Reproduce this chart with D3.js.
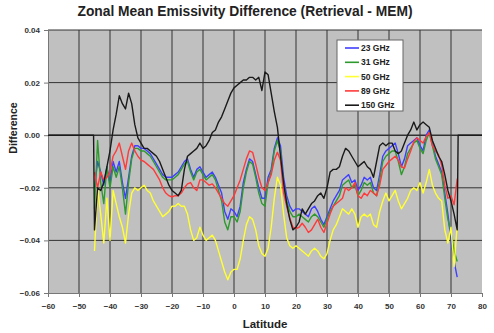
<!DOCTYPE html>
<html>
<head>
<meta charset="utf-8">
<script src="https://cdn.jsdelivr.net/npm/d3@7"></script>
<style>
  body { margin: 0; background: #fff; }
  svg { display: block; font-family: Arial, "Liberation Sans", sans-serif; }
</style>
</head>
<body>
<div id="viz"></div>
<script>
(function () {
  'use strict';

  // latitudes of the zonal means
  var lat = [-45, -44, -43, -42, -41, -40, -39, -38, -37, -36, -35, -34, -33, -32, -31, -30,
    -29, -28, -27, -26, -25, -24, -23, -22, -21, -20, -19, -18, -17, -16, -15, -14, -13, -12,
    -11, -10, -9, -8, -7, -6, -5, -4, -3, -2, -1, 0, 1, 2, 3, 4, 5, 6, 7, 8, 9, 10, 11, 12,
    13, 14, 15, 16, 17, 18, 19, 20, 21, 22, 23, 24, 25, 26, 27, 28, 29, 30, 31, 32, 33, 34,
    35, 36, 37, 38, 39, 40, 41, 42, 43, 44, 45, 46, 47, 48, 49, 50, 51, 52, 53, 54, 55, 56,
    57, 58, 59, 60, 61, 62, 63, 64, 65, 66, 67, 68, 69, 70, 71, 72];

  var ghz23 = [-0.020, -0.010, -0.014, -0.019, -0.012, -0.018, -0.010, -0.014, -0.010, -0.018,
    -0.024, -0.016, -0.008, -0.004, -0.004, -0.005, -0.005, -0.006, -0.007, -0.009, -0.011,
    -0.013, -0.015, -0.016, -0.016, -0.016, -0.015, -0.014, -0.012, -0.010, -0.009, -0.013,
    -0.016, -0.013, -0.012, -0.014, -0.016, -0.015, -0.014, -0.016, -0.019, -0.022, -0.029,
    -0.032, -0.028, -0.029, -0.031, -0.027, -0.018, -0.013, -0.009, -0.010, -0.015, -0.020,
    -0.024, -0.024, -0.016, -0.013, -0.005, -0.001, -0.004, -0.016, -0.023, -0.027, -0.029,
    -0.028, -0.028, -0.029, -0.030, -0.031, -0.028, -0.027, -0.029, -0.032, -0.034, -0.031,
    -0.028, -0.025, -0.023, -0.021, -0.017, -0.016, -0.015, -0.018, -0.017, -0.021, -0.019,
    -0.016, -0.017, -0.016, -0.020, -0.021, -0.015, -0.008, -0.006, -0.005, -0.004, -0.003,
    -0.007, -0.012, -0.009, -0.004, -0.003, -0.002, -0.001, -0.004, -0.006, 0.000, 0.002,
    -0.003, -0.008, -0.011, -0.014, -0.022, -0.030, -0.040, -0.048, -0.054];

  var ghz31 = [-0.028, -0.002, -0.018, -0.026, -0.012, -0.020, -0.012, -0.016, -0.012, -0.020,
    -0.030, -0.018, -0.009, -0.005, -0.005, -0.006, -0.006, -0.007, -0.008, -0.010, -0.012,
    -0.014, -0.016, -0.017, -0.017, -0.017, -0.016, -0.015, -0.013, -0.011, -0.010, -0.014,
    -0.017, -0.014, -0.013, -0.015, -0.017, -0.016, -0.015, -0.017, -0.021, -0.025, -0.033,
    -0.036, -0.031, -0.031, -0.033, -0.029, -0.020, -0.014, -0.010, -0.011, -0.016, -0.022,
    -0.026, -0.027, -0.018, -0.014, -0.006, -0.002, -0.006, -0.019, -0.025, -0.029, -0.031,
    -0.031, -0.030, -0.031, -0.032, -0.033, -0.031, -0.030, -0.031, -0.033, -0.035, -0.032,
    -0.029, -0.027, -0.025, -0.023, -0.019, -0.018, -0.017, -0.020, -0.019, -0.023, -0.021,
    -0.018, -0.019, -0.018, -0.022, -0.023, -0.017, -0.010, -0.008, -0.007, -0.006, -0.006,
    -0.010, -0.015, -0.012, -0.007, -0.005, -0.003, -0.002, -0.005, -0.007, -0.002, 0.001,
    -0.004, -0.009, -0.012, -0.015, -0.024, -0.032, -0.037, -0.044, -0.048];

  var ghz50 = [-0.044, -0.020, -0.030, -0.041, -0.024, -0.040, -0.021, -0.026, -0.031, -0.035,
    -0.041, -0.030, -0.022, -0.020, -0.021, -0.020, -0.019, -0.021, -0.022, -0.025, -0.027,
    -0.029, -0.031, -0.030, -0.029, -0.027, -0.027, -0.026, -0.027, -0.027, -0.030, -0.036,
    -0.040, -0.039, -0.035, -0.038, -0.040, -0.039, -0.038, -0.040, -0.044, -0.048, -0.052,
    -0.055, -0.052, -0.051, -0.051, -0.047, -0.040, -0.034, -0.031, -0.032, -0.036, -0.042,
    -0.045, -0.046, -0.043, -0.035, -0.024, -0.016, -0.019, -0.030, -0.039, -0.042, -0.043,
    -0.042, -0.043, -0.044, -0.045, -0.046, -0.044, -0.043, -0.044, -0.046, -0.047, -0.045,
    -0.040, -0.036, -0.034, -0.031, -0.028, -0.029, -0.030, -0.028, -0.030, -0.035, -0.031,
    -0.030, -0.031, -0.030, -0.034, -0.035, -0.029, -0.025, -0.022, -0.025, -0.023, -0.021,
    -0.025, -0.028, -0.026, -0.024, -0.021, -0.020, -0.021, -0.018, -0.022, -0.018, -0.013,
    -0.019, -0.022, -0.024, -0.025, -0.036, -0.041, -0.035, -0.050, -0.034];

  var ghz89 = [-0.014, -0.020, -0.014, -0.017, -0.016, -0.014, -0.008, -0.006, -0.003, -0.008,
    -0.013, -0.006, -0.003, -0.006, -0.008, -0.0095, -0.010, -0.011, -0.012, -0.013, -0.015,
    -0.017, -0.020, -0.022, -0.023, -0.0235, -0.023, -0.023, -0.022, -0.020, -0.0185, -0.018,
    -0.020, -0.021, -0.017, -0.017, -0.018, -0.019, -0.0185, -0.020, -0.022, -0.024, -0.026,
    -0.027, -0.025, -0.023, -0.020, -0.017, -0.013, -0.009, -0.006, -0.0065, -0.011, -0.016,
    -0.020, -0.021, -0.018, -0.015, -0.0095, -0.0065, -0.0095, -0.022, -0.027, -0.0315, -0.035,
    -0.0355, -0.035, -0.0335, -0.035, -0.037, -0.036, -0.034, -0.032, -0.035, -0.037, -0.0335,
    -0.030, -0.027, -0.026, -0.025, -0.024, -0.020, -0.021, -0.020, -0.018, -0.023, -0.024,
    -0.022, -0.023, -0.021, -0.022, -0.023, -0.019, -0.013, -0.0115, -0.010, -0.009, -0.008,
    -0.0095, -0.012, -0.0125, -0.009, -0.006, -0.0025, -0.001, -0.002, -0.003, -0.0005, 0.001,
    -0.004, -0.006, -0.0075, -0.0115, -0.019, -0.024, -0.023, -0.0265, -0.0165];

  var ghz150 = [-0.036, -0.020, -0.021, -0.018, -0.012, -0.006, 0.002, 0.008, 0.015, 0.012,
    0.010, 0.016, 0.012, 0.004, -0.001, -0.003, -0.005, -0.005, -0.006, -0.007, -0.008,
    -0.010, -0.013, -0.016, -0.019, -0.021, -0.022, -0.023, -0.021, -0.013, -0.008, -0.007,
    -0.006, -0.005, -0.003, -0.005, -0.004, -0.002, 0.001, 0.002, 0.005, 0.007, 0.010,
    0.013, 0.016, 0.018, 0.019, 0.020, 0.021, 0.021, 0.022, 0.022, 0.021, 0.022, 0.017,
    0.024, 0.023, 0.016, 0.009, 0.003, -0.008, -0.018, -0.026, -0.032, -0.036, -0.035,
    -0.033, -0.028, -0.030, -0.028, -0.026, -0.025, -0.023, -0.022, -0.024, -0.020, -0.014,
    -0.013, -0.013, -0.012, -0.008, -0.005, -0.006, -0.008, -0.010, -0.012, -0.011, -0.010,
    -0.012, -0.013, -0.016, -0.010, -0.004, -0.003, -0.004, -0.003, -0.003, -0.006, -0.007,
    -0.006, -0.003, 0.000, 0.002, 0.005, 0.002, 0.004, 0.005, 0.004, 0.003, -0.002, -0.005,
    -0.008, -0.010, -0.015, -0.021, -0.025, -0.030, -0.036];

  // 150 GHz sits at zero outside the retrieval band
  var flatStart = [[-60, 0], [-45.3, 0]];
  var flatEnd = [[72.3, 0], [80, 0]];

  var xTicks = [-60, -50, -40, -30, -20, -10, 0, 10, 20, 30, 40, 50, 60, 70, 80];
  var yTicks = [-0.06, -0.04, -0.02, 0.00, 0.02, 0.04];

  var series = [
    { name: '23 GHz', values: ghz23, color: '#3f3fff' },
    { name: '31 GHz', values: ghz31, color: '#2e9a2e' },
    { name: '50 GHz', values: ghz50, color: '#ffff33' },
    { name: '89 GHz', values: ghz89, color: '#ff3a3a' },
    { name: '150 GHz', values: ghz150, color: '#1a1a1a' }
  ];

  var width = 494, height = 333;
  var margin = { top: 30, right: 12, bottom: 40, left: 48 };

  var svg = d3.select('#viz')
    .append('svg')
    .attr('width', width)
    .attr('height', height);

  var x = d3.scaleLinear().domain([-60, 80]).range([margin.left, width - margin.right]);
  var y = d3.scaleLinear().domain([-0.06, 0.04]).range([height - margin.bottom, margin.top]);

  // title
  svg.append('text')
    .attr('x', 245)
    .attr('y', 16)
    .attr('text-anchor', 'middle')
    .style('font-size', '13.8px')
    .style('font-weight', 'bold')
    .style('fill', '#222')
    .text('Zonal Mean Emissivity Difference (Retrieval - MEM)');

  // grey plot area
  svg.append('rect')
    .attr('x', x(-60))
    .attr('y', y(0.04))
    .attr('width', x(80) - x(-60))
    .attr('height', y(-0.06) - y(0.04))
    .style('fill', '#c0c0c0');

  // grid
  svg.append('g')
    .selectAll('line')
    .data(xTicks.slice(1, -1))
    .enter().append('line')
    .attr('x1', function (d) { return x(d); })
    .attr('x2', function (d) { return x(d); })
    .attr('y1', y(0.04))
    .attr('y2', y(-0.06))
    .style('stroke', '#333')
    .style('stroke-width', 1);

  svg.append('g')
    .selectAll('line')
    .data(yTicks.slice(1))
    .enter().append('line')
    .attr('x1', x(-60))
    .attr('x2', x(80))
    .attr('y1', function (d) { return y(d); })
    .attr('y2', function (d) { return y(d); })
    .style('stroke', '#333')
    .style('stroke-width', function (d) { return d === 0 ? 1.4 : 1; });

  // axes
  var xAxis = d3.axisBottom(x).tickValues(xTicks).tickSize(4).tickSizeOuter(0)
    .tickFormat(d3.format('d'));
  var yAxis = d3.axisLeft(y).tickValues(yTicks).tickSize(4).tickSizeOuter(0)
    .tickFormat(d3.format('.2f'));

  var gx = svg.append('g')
    .attr('transform', 'translate(0,' + y(-0.06) + ')')
    .call(xAxis);
  var gy = svg.append('g')
    .attr('transform', 'translate(' + x(-60) + ',0)')
    .call(yAxis);

  [gx, gy].forEach(function (g) {
    g.select('.domain').style('stroke', '#777');
    g.selectAll('.tick line').style('stroke', '#777');
    g.selectAll('.tick text')
      .style('font-size', '8px')
      .style('font-weight', 'bold')
      .style('fill', '#333');
  });
  gx.selectAll('.tick text').attr('dy', '1.15em');
  gy.selectAll('.tick text').attr('x', -8);

  // axis titles
  svg.append('text')
    .attr('x', 265)
    .attr('y', 328)
    .attr('text-anchor', 'middle')
    .style('font-size', '11.5px')
    .style('font-weight', 'bold')
    .style('fill', '#222')
    .text('Latitude');

  svg.append('text')
    .attr('transform', 'translate(17,128) rotate(-90)')
    .attr('text-anchor', 'middle')
    .style('font-size', '10.5px')
    .style('font-weight', 'bold')
    .style('fill', '#222')
    .text('Difference');

  // series lines
  var line = d3.line()
    .x(function (d) { return x(d[0]); })
    .y(function (d) { return y(d[1]); });

  var plot = svg.append('g');
  series.forEach(function (s) {
    var pts = lat.map(function (l, i) { return [l, s.values[i]]; });
    if (s.name === '150 GHz') {
      pts = flatStart.concat(pts, flatEnd);
    }
    plot.append('path')
      .datum(pts)
      .attr('d', line)
      .style('fill', 'none')
      .style('stroke', s.color)
      .style('stroke-width', 1.4)
      .style('stroke-linejoin', 'round');
  });

  // legend
  var legend = svg.append('g').attr('transform', 'translate(337,40)');
  legend.append('rect')
    .attr('width', 66)
    .attr('height', 71)
    .style('fill', '#fff')
    .style('stroke', '#666')
    .style('stroke-width', 1);

  var item = legend.selectAll('g.item')
    .data(series)
    .enter().append('g')
    .attr('class', 'item')
    .attr('transform', function (d, i) { return 'translate(0,' + (8 + i * 14.3) + ')'; });

  item.append('line')
    .attr('x1', 8)
    .attr('x2', 22)
    .style('stroke', function (d) { return d.color; })
    .style('stroke-width', 1.6);

  item.append('text')
    .attr('x', 24)
    .attr('dy', '0.35em')
    .style('font-size', '8.5px')
    .style('font-weight', 'bold')
    .style('fill', '#222')
    .text(function (d) { return d.name; });
})();
</script>
</body>
</html>
